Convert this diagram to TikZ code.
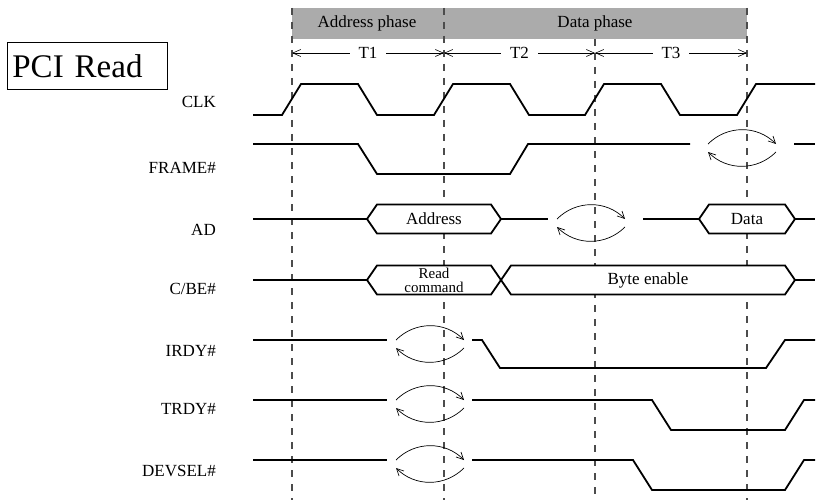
\documentclass[tikz,border=0pt]{standalone}
\usepackage{fontspec}
\setmainfont{Liberation Serif}
\usetikzlibrary{arrows.meta}
\tikzset{
  wave/.style={line width=1.8pt, line join=miter},
  cycleline/.style={dash pattern=on 7pt off 7pt, black!70, line width=1.1pt},
  turnarc/.style={-{Straight Barb[length=7pt,width=7pt]}, line width=0.7pt},
  cyclearrow/.style={{Straight Barb[length=8pt,width=7pt]}-{Straight Barb[length=8pt,width=7pt]}, line width=0.6pt},
  siglabel/.style={anchor=east, inner sep=0pt, font=\fontsize{17}{17}\selectfont},
  buslabel/.style={inner sep=0pt, align=center, font=\fontsize{17}{14}\selectfont}
}
% bus turnaround: #1 = centre x, #2 = level y
\newcommand{\busturn}[2]{%
  \draw[turnarc] (#1-34,#2) .. controls (#1-15,#2-19) and (#1+15,#2-19) .. (#1+34,#2);
  \draw[turnarc] (#1+34,#2+8) .. controls (#1+15,#2+27) and (#1-15,#2+27) .. (#1-34,#2+8);
}
% bus value box: #1 = name, #2 = left x, #3 = right x, #4 = level y, #5 = text
\newcommand{\busbox}[5]{%
  \draw[wave, fill=white] (#2,#4) -- (#2+10,#4-14.5) -- (#3-10,#4-14.5) -- (#3,#4)
    -- (#3-10,#4+14.5) -- (#2+10,#4+14.5) -- cycle;
  \node[buslabel] (#1) at ({(#2+#3)/2},#4) {#5};
}

\begin{document}
\begin{tikzpicture}[x=1pt,y=-1pt]
  \useasboundingbox (0,0) rectangle (816,500);

  %phase bar on top
  \fill[black!33] (292,8) rectangle (747,39);
  \node[font=\fontsize{17}{17}\selectfont] (addrphase) at (367,23) {Address phase};
  \node[font=\fontsize{17}{17}\selectfont] (dataphase) at (595,23) {Data phase};

  %clock edges, define coordinates first
  \coordinate (c0) at (292,53);
  \coordinate (c1) at (444,53);
  \coordinate (c2) at (595,53);
  \coordinate (c3) at (747,53);

  %dashed cycle lines
  \draw[cycleline] (292,8) -- (292,500);
  \draw[cycleline] (444,8) -- (444,500);
  \draw[cycleline] (595,39) -- (595,500);
  \draw[cycleline] (747,8) -- (747,500);

  %cycle arrows
  \draw[cyclearrow] (c0) -- node[fill=white, inner xsep=9pt, font=\fontsize{17}{17}\selectfont]{T1} (c1);
  \draw[cyclearrow] (c1) -- node[fill=white, inner xsep=9pt, font=\fontsize{17}{17}\selectfont]{T2} (c2);
  \draw[cyclearrow] (c2) -- node[fill=white, inner xsep=9pt, font=\fontsize{17}{17}\selectfont]{T3} (c3);

  %title
  \node[draw, line width=0.8pt, anchor=north west, inner xsep=5pt, text width=150pt,
        minimum height=47pt, font=\fontsize{33}{33}\selectfont] (title) at (7,42) {PCI Read};

  %signal names
  \node[siglabel] (clk) at (216,102) {CLK};
  \node[siglabel] (frame) at (216,168) {FRAME\#};
  \node[siglabel] (ad) at (216,230) {AD};
  \node[siglabel] (cbe) at (216,289) {C/BE\#};
  \node[siglabel] (irdy) at (216,351) {IRDY\#};
  \node[siglabel] (trdy) at (216,409) {TRDY\#};
  \node[siglabel] (devsel) at (216,471) {DEVSEL\#};

  %CLK
  \draw[wave] (253,115) \foreach \t in {292,444,595} {-- (\t-10,115) -- (\t+9,84) -- (\t+66,84) -- (\t+85,115)}
    -- (737,115) -- (756,84) -- (815,84);

  %FRAME#
  \draw[wave] (253,144) -- (358,144) -- (377,174) -- (510,174) -- (528,144) -- (690,144);
  \busturn{742}{144}
  \draw[wave] (794,144) -- (815,144);

  %AD
  \draw[wave] (253,219) -- (367,219);
  \busbox{addr}{367}{501}{219}{Address}
  \draw[wave] (501,219) -- (548,219);
  \busturn{591}{219}
  \draw[wave] (643,219) -- (699,219);
  \busbox{data}{699}{795}{219}{Data}
  \draw[wave] (795,219) -- (815,219);

  %C/BE#
  \draw[wave] (253,280) -- (367,280);
  \busbox{readcmd}{367}{501}{280}{\fontsize{15}{14}\selectfont Read\\\fontsize{15}{14}\selectfont command}
  \busbox{byteen}{501}{795}{280}{Byte enable}
  \draw[wave] (795,280) -- (815,280);

  %IRDY#
  \draw[wave] (253,340) -- (387,340);
  \busturn{430}{340}
  \draw[wave] (472,340) -- (482,340) -- (500,368) -- (766,368) -- (785,340) -- (815,340);

  %TRDY#
  \draw[wave] (253,400) -- (387,400);
  \busturn{430}{400}
  \draw[wave] (472,400) -- (652,400) -- (671,430) -- (785,430) -- (804,400) -- (815,400);

  %DEVSEL#
  \draw[wave] (253,460) -- (387,460);
  \busturn{430}{460}
  \draw[wave] (472,460) -- (633,460) -- (652,490) -- (785,490) -- (804,460) -- (815,460);
\end{tikzpicture}
\end{document}
